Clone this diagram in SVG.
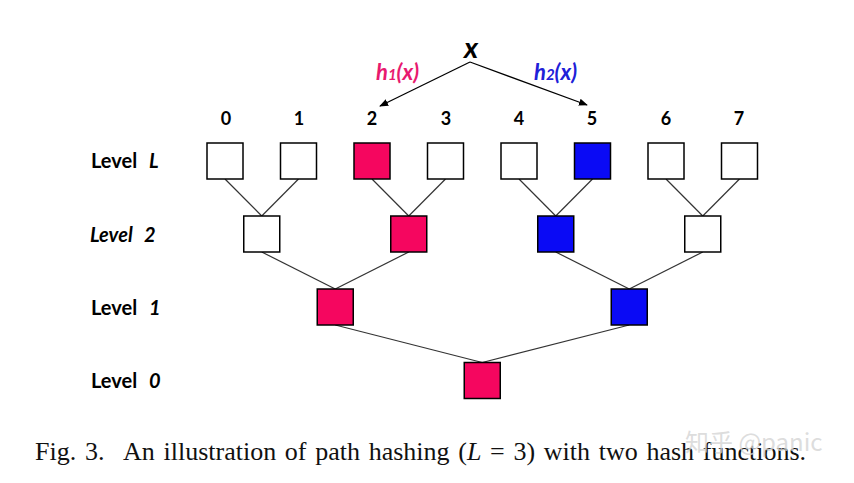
<svg xmlns="http://www.w3.org/2000/svg" width="854" height="483" viewBox="0 0 854 483">
<defs>
<style>
.bx{stroke:#000;stroke-width:1.5}
.w{fill:#fff}
.p{fill:#F5065F}
.b{fill:#0A0AF5}
.ln{stroke:#333;stroke-width:1.2;fill:none}
.lbl{font-family:Lato,"Open Sans","Liberation Sans",sans-serif;font-weight:bold;font-size:20px;fill:#000}
.num{font-family:Lato,"Open Sans","Liberation Sans",sans-serif;font-weight:bold;font-size:18px;fill:#000;text-anchor:middle}
.it{font-style:italic}
.cap{font-family:"Liberation Serif","Times New Roman",serif;font-size:26px;word-spacing:2.2px;fill:#111}
</style>
<marker id="ah" viewBox="0 0 10 10" refX="9" refY="5" markerWidth="9" markerHeight="9" orient="auto" markerUnits="userSpaceOnUse">
<path d="M0,1 L10,5 L0,9 Z" fill="#000"/>
</marker>
</defs>
<rect width="854" height="483" fill="#fff"/>

<g id="connectors">
<line class="ln" x1="225" y1="179" x2="261.75" y2="216"/>
<line class="ln" x1="298.5" y1="179" x2="261.75" y2="216"/>
<line class="ln" x1="372" y1="179" x2="408.75" y2="216"/>
<line class="ln" x1="445.5" y1="179" x2="408.75" y2="216"/>
<line class="ln" x1="519" y1="179" x2="555.75" y2="216"/>
<line class="ln" x1="592.5" y1="179" x2="555.75" y2="216"/>
<line class="ln" x1="666" y1="179" x2="702.75" y2="216"/>
<line class="ln" x1="739.5" y1="179" x2="702.75" y2="216"/>
<line class="ln" x1="261.75" y1="252" x2="335.25" y2="289"/>
<line class="ln" x1="408.75" y1="252" x2="335.25" y2="289"/>
<line class="ln" x1="555.75" y1="252" x2="629.25" y2="289"/>
<line class="ln" x1="702.75" y1="252" x2="629.25" y2="289"/>
<line class="ln" x1="335.25" y1="325" x2="482.25" y2="362.5"/>
<line class="ln" x1="629.25" y1="325" x2="482.25" y2="362.5"/>
<line x1="470" y1="62" x2="380" y2="106" stroke="#000" stroke-width="1.3" marker-end="url(#ah)"/>
<line x1="470" y1="62" x2="587" y2="105" stroke="#000" stroke-width="1.3" marker-end="url(#ah)"/>
</g>

<g id="hash-labels">
<text x="471" y="58" font-family="Lato,'Open Sans','Liberation Sans',sans-serif" font-weight="bold" font-style="italic" font-size="29" text-anchor="middle" fill="#000">x</text>
<text x="376" y="80" font-family="Lato,'Open Sans','Liberation Sans',sans-serif" font-weight="bold" font-style="italic" font-size="22" fill="#E8196E">h<tspan font-size="15">1</tspan>(x)</text>
<text x="534" y="80" font-family="Lato,'Open Sans','Liberation Sans',sans-serif" font-weight="bold" font-style="italic" font-size="22" fill="#2020D8">h<tspan font-size="15">2</tspan>(x)</text>
</g>

<g id="indices">
<text class="num" x="226" y="125">0</text>
<text class="num" x="299" y="125">1</text>
<text class="num" x="372" y="125">2</text>
<text class="num" x="446" y="125">3</text>
<text class="num" x="519" y="125">4</text>
<text class="num" x="592" y="125">5</text>
<text class="num" x="666" y="125">6</text>
<text class="num" x="739" y="125">7</text>
</g>

<g id="level-labels">
<text class="lbl" x="91" y="167.5">Level <tspan class="it" dx="7">L</tspan></text>
<text class="lbl it" x="90" y="241.5">Level <tspan dx="7">2</tspan></text>
<text class="lbl" x="91" y="314.5">Level <tspan class="it" dx="7">1</tspan></text>
<text class="lbl" x="91" y="387.5">Level <tspan class="it" dx="7">0</tspan></text>
</g>

<g id="leaf-0"><rect class="bx w" x="207" y="143" width="36" height="36"/></g>
<g id="leaf-1"><rect class="bx w" x="280.5" y="143" width="36" height="36"/></g>
<g id="leaf-2"><rect class="bx p" x="354" y="143" width="36" height="36"/></g>
<g id="leaf-3"><rect class="bx w" x="427.5" y="143" width="36" height="36"/></g>
<g id="leaf-4"><rect class="bx w" x="501" y="143" width="36" height="36"/></g>
<g id="leaf-5"><rect class="bx b" x="574.5" y="143" width="36" height="36"/></g>
<g id="leaf-6"><rect class="bx w" x="648" y="143" width="36" height="36"/></g>
<g id="leaf-7"><rect class="bx w" x="721.5" y="143" width="36" height="36"/></g>

<g id="l2-0"><rect class="bx w" x="243.75" y="216" width="36" height="36"/></g>
<g id="l2-1"><rect class="bx p" x="390.75" y="216" width="36" height="36"/></g>
<g id="l2-2"><rect class="bx b" x="537.75" y="216" width="36" height="36"/></g>
<g id="l2-3"><rect class="bx w" x="684.75" y="216" width="36" height="36"/></g>

<g id="l1-0"><rect class="bx p" x="317.25" y="289" width="36" height="36"/></g>
<g id="l1-1"><rect class="bx b" x="611.25" y="289" width="36" height="36"/></g>

<g id="root"><rect class="bx p" x="464.25" y="362.5" width="36" height="36"/></g>

<g id="caption">
<text class="cap" y="459.5"><tspan x="35">Fig. 3.</tspan><tspan x="123">An illustration of path hashing (<tspan font-style="italic">L</tspan> = 3) with two hash functions.</tspan></text>
<text x="685" y="451" font-family="'Noto Sans CJK SC','Noto Sans',sans-serif" font-size="24" fill="#d4d4d4" fill-opacity="0.8">知乎 @panic</text>
</g>
</svg>
